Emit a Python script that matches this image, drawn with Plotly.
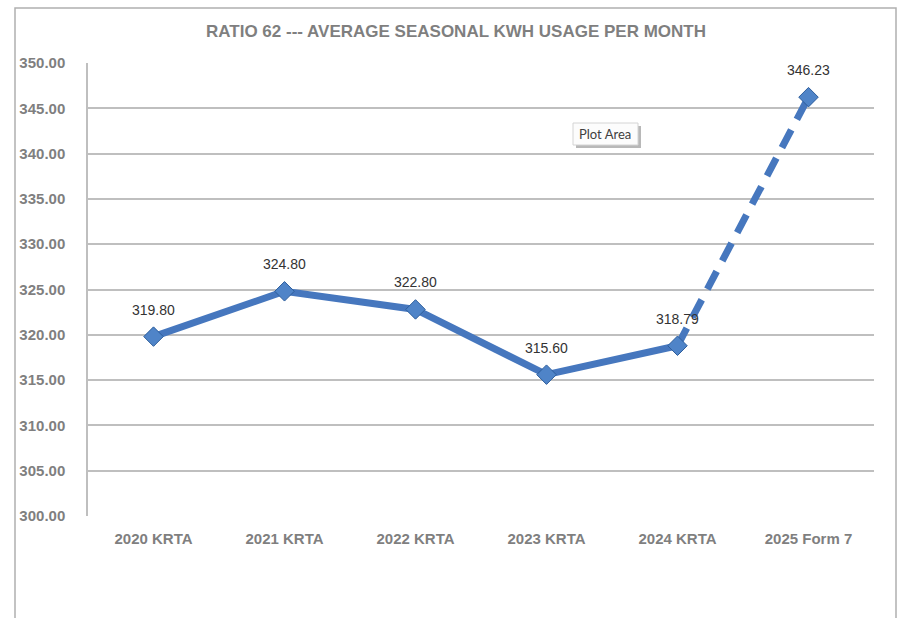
import plotly.graph_objects as go

categories = ["2020 KRTA", "2021 KRTA", "2022 KRTA", "2023 KRTA", "2024 KRTA", "2025 Form 7"]
values = [319.80, 324.80, 322.80, 315.60, 318.79, 346.23]
value_labels = ["319.80", "324.80", "322.80", "315.60", "318.79", "346.23"]
y_ticks = [300, 305, 310, 315, 320, 325, 330, 335, 340, 345, 350]
title_text = "RATIO 62 --- AVERAGE SEASONAL KWH USAGE PER MONTH"

LINE = "#4677BE"
GRID = "#bfbfbf"
GRAYTXT = "#7f7f7f"
FONT = "Liberation Sans, Arial, sans-serif"

W, H = 899, 618
L, R, T, B = 88, 25, 63, 102
pw, ph = W - L - R, H - T - B


def px(xp):
    return (xp - L) / pw


def py(yp):
    return (H - B - yp) / ph


fig = go.Figure()
fig.add_trace(go.Scatter(x=categories[:5], y=values[:5], mode="lines",
                         line=dict(color=LINE, width=7), hoverinfo="skip", showlegend=False))
fig.add_trace(go.Scatter(x=categories[4:], y=values[4:], mode="lines",
                         line=dict(color=LINE, width=7, dash="20px,12px"), hoverinfo="skip", showlegend=False))
fig.add_trace(go.Scatter(x=categories, y=values, mode="markers",
                         marker=dict(symbol="diamond", size=15, color="#4F84C8",
                                     line=dict(color="#2E5E9C", width=1)),
                         showlegend=False))

for c, v, t in zip(categories, values, value_labels):
    fig.add_annotation(x=c, y=v, text=t, showarrow=False, yshift=27,
                       font=dict(family=FONT, size=14, color="#333333"))

# "Plot Area" tooltip (shadow + box)
fig.add_shape(type="rect", xref="paper", yref="paper",
              x0=px(576), x1=px(641), y0=py(148), y1=py(126),
              line=dict(width=0), fillcolor="#b8b8b8", layer="above")
fig.add_shape(type="rect", xref="paper", yref="paper",
              x0=px(573), x1=px(638), y0=py(145), y1=py(123),
              line=dict(color="#d4d4d4", width=1), fillcolor="#fcfcfc", layer="above")
fig.add_annotation(xref="paper", yref="paper", x=px(605), y=py(134),
                   xanchor="center", yanchor="middle",
                   text="Plot Area", showarrow=False,
                   font=dict(family="Lato, Liberation Sans, sans-serif", size=13, color="#404040"))

# outer chart border
fig.add_shape(type="rect", xref="paper", yref="paper",
              x0=px(15), x1=px(896), y0=py(640), y1=py(8),
              line=dict(color="#b0b0b0", width=1.5), layer="below")

fig.update_layout(
    width=W, height=H,
    margin=dict(l=L, r=R, t=T, b=B),
    paper_bgcolor="white", plot_bgcolor="white",
    title=dict(text=title_text, x=456 / W, xanchor="center", y=1 - 31 / H, yanchor="middle",
               font=dict(family=FONT, size=17, color=GRAYTXT, weight="bold")),
    xaxis=dict(type="category", range=[-0.5, 5.5], showgrid=False, showline=False,
               zeroline=False, ticks="", ticklabelstandoff=12,
               tickfont=dict(family=FONT, size=15, color=GRAYTXT, weight="bold")),
    yaxis=dict(range=[300, 350], tickvals=y_ticks, tickformat=".2f", showgrid=True,
               gridcolor=GRID, gridwidth=1.5, showline=True, linecolor=GRID, linewidth=1.5,
               zeroline=False, ticks="", ticklabelstandoff=18,
               tickfont=dict(family=FONT, size=15, color=GRAYTXT, weight="bold")),
    hovermode=False,
)

fig.write_html("out.html", config={"displayModeBar": False},
               post_script="document.body.style.margin='0px';document.body.style.overflow='hidden';")
